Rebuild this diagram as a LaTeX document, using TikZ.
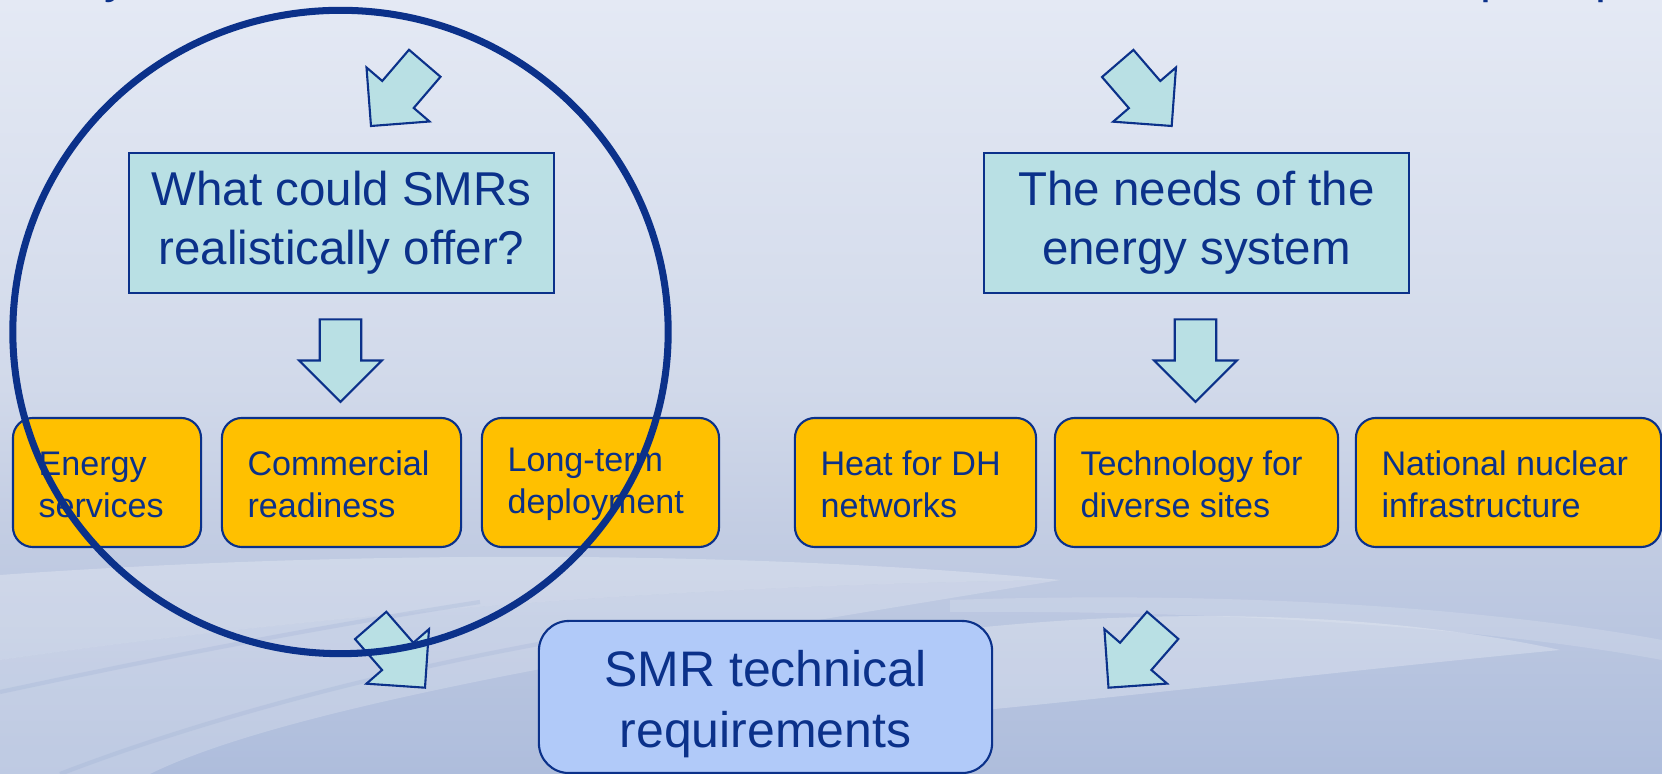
\documentclass[tikz,border=0pt]{standalone}
\usepackage{fontspec}
\setmainfont{Liberation Sans}
\definecolor{navy}{HTML}{0B318A}
\definecolor{boxcyan}{HTML}{B9E0E4}
\definecolor{boxorange}{HTML}{FFC000}
\definecolor{boxblue}{HTML}{B1CAF9}
\definecolor{bgtop}{HTML}{E4E9F4}
\definecolor{bgmid}{HTML}{D1D9EA}
\definecolor{bglow}{HTML}{C3CDE3}
\definecolor{bgbot}{HTML}{AEBDDC}
% backdrop: the path's box is mapped onto 25bp..75bp
\pgfdeclareverticalshading{backdrop}{100bp}{color(0bp)=(bgbot); color(25bp)=(bgbot); color(41bp)=(bglow); color(50bp)=(bgmid); color(75bp)=(bgtop); color(100bp)=(bgtop)}
\tikzset{
  qbox/.style={draw=navy, line width=0.6pt, fill=boxcyan, inner sep=0pt,
    text=navy, align=center, font=\fontsize{13.5}{16.8}\selectfont},
  topicbox/.style={draw=navy, line width=0.6pt, fill=boxorange, rounded corners=0.2cm,
    minimum height=1.29cm, inner sep=0pt},
  topictext/.style={text=navy, align=left, inner sep=0pt, anchor=west,
    font=\fontsize{9.7}{11.95}\selectfont},
  goalbox/.style={draw=navy, line width=0.6pt, fill=boxblue, rounded corners=0.3cm,
    inner sep=0pt},
  goaltext/.style={text=navy, align=center, inner sep=0pt,
    font=\fontsize{14.2}{17.4}\selectfont},
  blockarrow/.pic={
    \filldraw[fill=boxcyan, draw=navy, line width=0.6pt, line join=miter]
      (0,0) -- (-41.5,-41.5) -- (-41.5,-20.75) -- (-82.6,-20.75)
      -- (-82.6,20.75) -- (-41.5,20.75) -- (-41.5,41.5) -- cycle;
  },
  focusring/.style={draw=navy, line width=2pt},
  headline/.style={text=navy, inner sep=0pt, anchor=base west,
    font=\fontsize{14}{16}\selectfont},
}
\begin{document}
\begin{tikzpicture}[x=0.01cm, y=-0.01cm]
\useasboundingbox (0,0) rectangle (1662,774);
% backdrop gradient and light swooshes
\fill[shading=backdrop] (0,0) rectangle (1662,774);
\fill[white, opacity=0.25] (0,575) .. controls (350,550) and (750,550) .. (1060,580)
  .. controls (700,585) and (350,610) .. (0,660) -- cycle;
\fill[white, opacity=0.20] (0,660) .. controls (350,610) and (700,585) .. (1060,580)
  .. controls (700,640) and (300,700) .. (150,774) -- (0,774) -- cycle;
\fill[white, opacity=0.25] (880,640) .. controls (1150,600) and (1400,615) .. (1560,650)
  .. controls (1350,670) and (1100,700) .. (930,715) .. controls (900,690) and (880,660) .. (880,640) -- cycle;
\fill[white, opacity=0.15] (950,600) .. controls (1250,590) and (1500,610) .. (1662,640)
  -- (1662,660) .. controls (1500,630) and (1250,610) .. (950,612) -- cycle;
\draw[bgbot!85!navy, opacity=0.22, line width=1.2pt] (0,692) .. controls (150,660) and (300,630) .. (480,602);
\draw[bgbot!85!navy, opacity=0.22, line width=1.2pt] (60,774) .. controls (200,720) and (400,665) .. (620,630);

% heading letters cut off by the top edge
\node[headline] (h1) at (104,-7) {y};
\node[headline] (h2) at (1480,-7) {p};
\node[headline] (h3) at (1595,-7) {p};

% questions
\node[qbox, minimum width=4.25cm, minimum height=1.40cm] (offer) at (341.5,223)
  {What could SMRs\\realistically offer?};
\node[qbox, minimum width=4.25cm, minimum height=1.40cm] (needs) at (1196.5,223)
  {The needs of the\\energy system};

% aspects
\node[topicbox, minimum width=1.88cm] (energy)  at (107,482.5) {};
\node[topicbox, minimum width=2.39cm] (ready)   at (341.5,482.5) {};
\node[topicbox, minimum width=2.37cm] (deploy)  at (600.5,482.5) {};
\node[topicbox, minimum width=2.41cm] (heat)    at (915.5,482.5) {};
\node[topicbox, minimum width=2.83cm] (sites)   at (1196.5,482.5) {};
\node[topicbox, minimum width=3.05cm] (infra)   at (1508.5,482.5) {};
\node[topictext] (energyT) at ([xshift=0.26cm,yshift=-0.02cm]energy.west) {Energy\\services};
\node[topictext] (readyT)  at ([xshift=0.26cm,yshift=-0.02cm]ready.west)  {Commercial\\readiness};
\node[topictext] (deployT) at ([xshift=0.26cm,yshift=-0.02cm]deploy.west) {Long-term\\deployment};
\node[topictext] (heatT)   at ([xshift=0.26cm,yshift=-0.02cm]heat.west)   {Heat for DH\\networks};
\node[topictext] (sitesT)  at ([xshift=0.26cm,yshift=-0.02cm]sites.west)  {Technology for\\diverse sites};
\node[topictext] (infraT)  at ([xshift=0.26cm,yshift=-0.02cm]infra.west)  {National nuclear\\infrastructure};

% outcome
\node[goalbox, minimum width=4.53cm, minimum height=1.52cm] (req) at (765.5,697) {};
\node[goaltext] (reqT) at ([yshift=-0.07cm]req.center) {SMR technical\\requirements};

% block arrows (tip at the given point)
\pic[rotate=-130.6] at (371,126) {blockarrow};
\pic[rotate=-49.2] at (1171.7,126) {blockarrow};
\pic[rotate=-90] at (340.5,402) {blockarrow};
\pic[rotate=-90] at (1195.5,402) {blockarrow};
\pic[rotate=-48.9] at (425,687.7) {blockarrow};
\pic[rotate=-131] at (1108.5,687.7) {blockarrow};

% emphasis ring
\draw[focusring] (340.5,332) ellipse [x radius=3.275cm, y radius=3.215cm];
\end{tikzpicture}
\end{document}
